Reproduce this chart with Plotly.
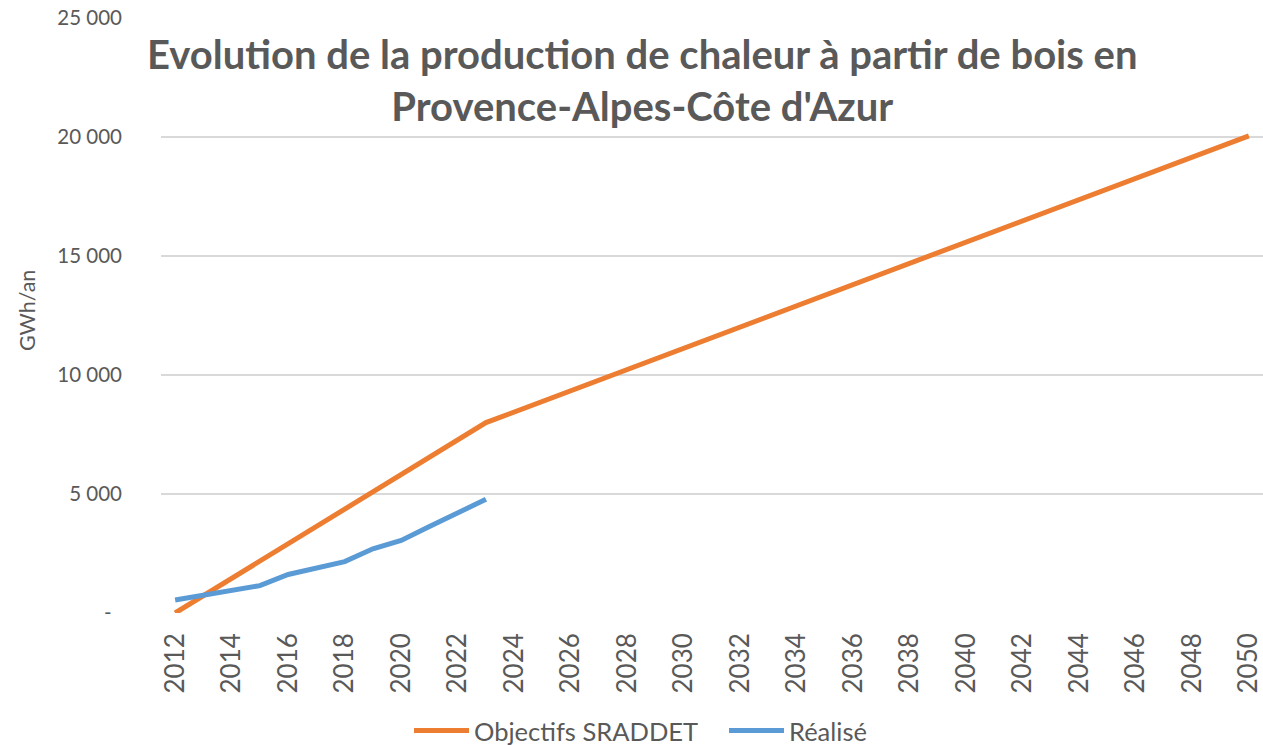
import plotly.graph_objects as go

# Data
years_obj = [2012, 2023, 2050]
objectifs = [0, 8000, 20050]

years_real = [2012, 2013, 2014, 2015, 2016, 2017, 2018, 2019, 2020, 2021, 2022, 2023]
realise = [550, 760, 960, 1150, 1620, 1890, 2160, 2700, 3050, 3630, 4210, 4780]

x_ticks = list(range(2012, 2051, 2))
y_ticks = [0, 5000, 10000, 15000, 20000, 25000]
y_ticktext = ["-\u00a0\u00a0", "5 000", "10 000", "15 000", "20 000", "25 000"]

FONT = "Lato"
GREY = "#595959"

fig = go.Figure()
fig.add_trace(go.Scatter(x=years_obj, y=objectifs, mode="lines", name="Objectifs SRADDET",
                         line=dict(color="#ED7D31", width=5)))
fig.add_trace(go.Scatter(x=years_real, y=realise, mode="lines", name="Réalisé",
                         line=dict(color="#5B9BD5", width=5)))

W, H = 1263, 745
L, R, T, B = 161, 0, 18, 132
PW = W - L - R
PH = H - T - B

fig.update_layout(
    width=W, height=H,
    margin=dict(l=L, r=R, t=T, b=B, autoexpand=False),
    paper_bgcolor="white", plot_bgcolor="white",
    font=dict(family=FONT, color=GREY),
    showlegend=True,
    legend=dict(orientation="h", x=(409 - L) / PW, xanchor="left",
                y=-(731 - (H - B)) / PH, yanchor="middle",
                font=dict(size=25.5, color=GREY, family=FONT), itemwidth=55,
                entrywidth=245, entrywidthmode="pixels",
                traceorder="normal"),
    xaxis=dict(range=[2011.5, 2050.5], tickmode="array", tickvals=x_ticks,
               tickangle=-90, tickfont=dict(size=26, color=GREY, family=FONT),
               showgrid=False, zeroline=False, showline=False, ticks="",
               ticklabelstandoff=14, ticklabeloverflow="allow", automargin=False),
    yaxis=dict(range=[0, 25000], tickmode="array", tickvals=y_ticks, ticktext=y_ticktext,
               tickfont=dict(size=20.5, color=GREY, family=FONT),
               showgrid=True, gridcolor="#D9D9D9", gridwidth=1.5,
               zeroline=False, showline=False, ticks="", ticklabelstandoff=38,
               automargin=False),
    annotations=[
        dict(text="GWh/an", xref="paper", yref="paper",
             x=-(L - 27) / PW, y=1 - (311 - T) / PH,
             xanchor="center", yanchor="middle",
             textangle=-90, showarrow=False, font=dict(size=21.5, color=GREY, family=FONT)),
        dict(text="<b>Evolution de la production de chaleur à partir de bois en<br>Provence-Alpes-Côte d'Azur</b>",
             xref="paper", yref="paper",
             x=(642 - L) / PW, y=1 - (80 - T) / PH,
             xanchor="center", yanchor="middle", showarrow=False,
             font=dict(size=40, color=GREY, family=FONT)),
    ],
)

fig.write_html(
    "out.html",
    config={"displayModeBar": False},
    post_script="document.body.style.margin='0';document.body.style.overflow='hidden';",
)
